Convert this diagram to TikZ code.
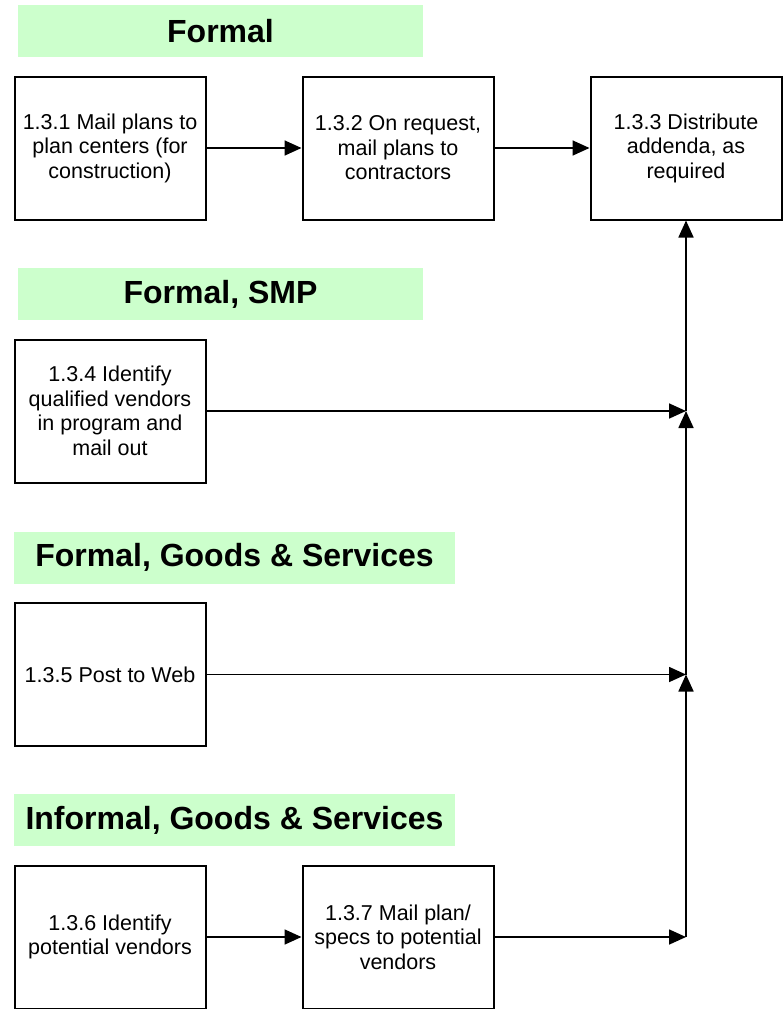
\documentclass[tikz,border=0pt]{standalone}
\usepackage{fontspec}
\setmainfont{Liberation Sans}
\usetikzlibrary{arrows.meta}
\definecolor{mint}{HTML}{CCFFCC}

\begin{document}
\begin{tikzpicture}[x=1pt,y=-1pt,>={Triangle[length=17pt,width=15pt]},line width=1.7pt,node distance=288pt,
  task node/.style={rectangle,draw,line width=2pt,minimum width=191pt,minimum height=143pt,align=center,inner sep=2pt,font=\fontsize{21.5}{24.5}\selectfont},
  head node/.style={rectangle,fill=mint,minimum height=52pt,font=\bfseries\fontsize{32}{37}\selectfont}]

            \useasboundingbox (0,0) rectangle (782,1009);

            \node[head node, minimum width=405pt] (h1) at (220.5,31) {Formal};
            \node[head node, minimum width=405pt] (h2) at (220.5,294) {Formal, SMP};
            \node[head node, minimum width=441pt] (h3) at (234.5,557.5) {Formal, Goods \& Services};
            \node[head node, minimum width=441pt] (h4) at (234.5,820) {Informal, Goods \& Services};

            \node[task node] (1) at (110,148) {1.3.1 Mail plans to\\plan centers (for\\construction)};
            \node[task node] (2) [right of = 1] {1.3.2 On request,\\mail plans to\\contractors};
            \node[task node] (3) [right of = 2] {1.3.3 Distribute\\addenda, as\\required};
            \node[task node] (4) at (110,411) {1.3.4 Identify\\qualified vendors\\in program and\\mail out};
            \node[task node] (5) at (110,674.5) {1.3.5 Post to Web};
            \node[task node] (6) at (110,937) {1.3.6 Identify\\potential vendors};
            \node[task node] (7) [right of = 6] {1.3.7 Mail plan/\\specs to potential\\vendors};

            \coordinate (j4) at (686,411);
            \coordinate (j5) at (686,674.5);
            \coordinate (j7) at (686,937);

            \draw[->] (1) to (2);
            \draw[->] (2) to (3);
            \draw[->] (4) to (j4);
            \draw[->] (5) to (j5);
            \draw[->] (6) to (7);
            \draw[->] (7) to (j7);
            \draw[->] (j7) to (j5);
            \draw[->] (j5) to (j4);
            \draw[->] (j4) to (3);

            ;
        \end{tikzpicture}
\end{document}
